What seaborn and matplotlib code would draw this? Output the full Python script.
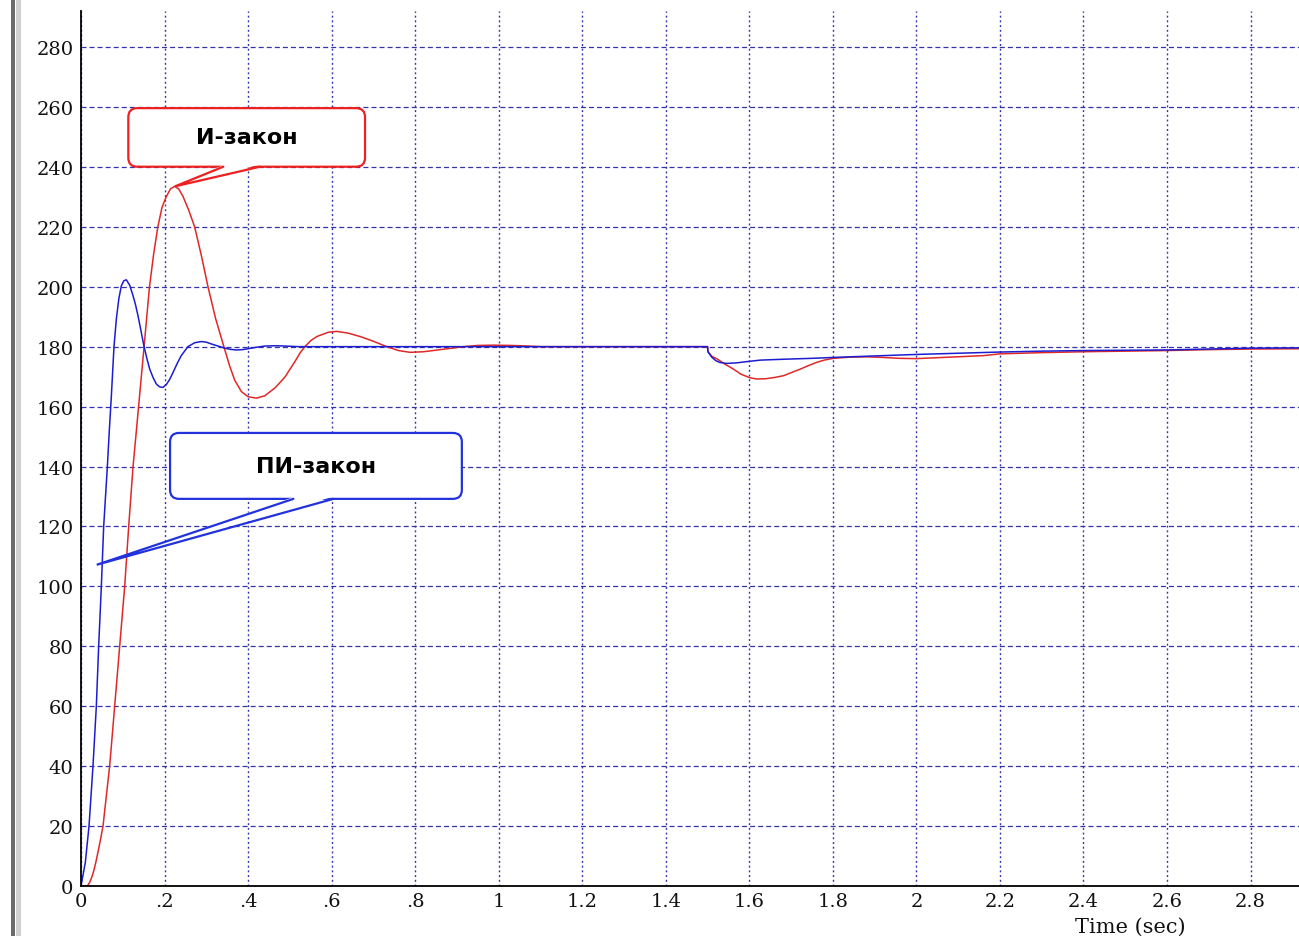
import numpy as np
import pandas as pd
import matplotlib
matplotlib.use("Agg")
import matplotlib.pyplot as plt
import seaborn as sns
from matplotlib.patches import FancyBboxPatch, Polygon
from matplotlib.lines import Line2D
from matplotlib.transforms import IdentityTransform

# ---------------- data ----------------
series_names = ["И-закон", "ПИ-закон"]

t_pi = [0.000, 0.004, 0.0104, 0.0192, 0.0287, 0.0367, 0.0423, 0.0487, 0.0543, 0.0631,
        0.0680, 0.0727, 0.0790, 0.0846, 0.0906, 0.0966, 0.1025, 0.1086, 0.1166, 0.1246,
        0.1305, 0.1365, 0.1440, 0.1510, 0.1578, 0.1645, 0.1725, 0.1805, 0.1880, 0.1960,
        0.2040, 0.2120, 0.2204, 0.2300, 0.2400, 0.2560, 0.2720, 0.2880, 0.3000, 0.3120,
        0.3280, 0.3440, 0.3580, 0.3720, 0.3860, 0.4000, 0.4200, 0.4400, 0.4650, 0.4880,
        0.5200, 0.5600, 1.5000, 1.5010, 1.5100, 1.5200, 1.5300, 1.5460, 1.5700, 1.6000,
        1.6260, 1.6820, 1.7500, 1.8020, 1.9000, 2.0000, 2.1000, 2.2000, 2.3000, 2.4000,
        2.5000, 2.6000, 2.7000, 2.8000, 2.9200]
v_pi = [0.0, 3.0, 7.9, 20.0, 40.0, 60.0, 80.0, 100.0, 120.0, 140.0,
        152.5, 163.6, 180.0, 189.2, 196.0, 200.3, 202.0, 202.3, 200.5, 197.0,
        194.0, 190.3, 185.0, 180.0, 176.0, 172.5, 169.7, 167.5, 166.6, 166.4,
        167.3, 169.0, 171.4, 174.3, 177.0, 180.0, 181.3, 181.7, 181.5, 180.9,
        180.2, 179.5, 179.1, 178.9, 179.0, 179.3, 179.8, 180.2, 180.3, 180.2,
        180.0, 180.0, 180.0, 178.3, 176.5, 175.3, 174.7, 174.4, 174.6, 175.1,
        175.5, 175.8, 176.1, 176.4, 176.9, 177.4, 177.8, 178.2, 178.5, 178.7,
        178.8, 178.9, 179.2, 179.5, 179.6]

t_i = [0.000, 0.015, 0.020, 0.025, 0.030, 0.035, 0.040, 0.046, 0.0527, 0.0606,
       0.0686, 0.0806, 0.0926, 0.1046, 0.1142, 0.1246, 0.1326, 0.1405, 0.1510, 0.1575,
       0.1640, 0.1740, 0.1840, 0.1940, 0.2040, 0.2144, 0.2244, 0.2340, 0.2440, 0.2580,
       0.2720, 0.2880, 0.3040, 0.3220, 0.3420, 0.3560, 0.3680, 0.3840, 0.4000, 0.4200,
       0.4400, 0.4650, 0.4880, 0.5120, 0.5250, 0.5360, 0.5500, 0.5650, 0.5920, 0.6120,
       0.6400, 0.6700, 0.7000, 0.7320, 0.7600, 0.7880, 0.8200, 0.8600, 0.9160, 0.9500,
       0.9880, 1.0300, 1.0700, 1.1000, 1.5000, 1.5010, 1.5100, 1.5230, 1.5400, 1.5620,
       1.5800, 1.6020, 1.6180, 1.6400, 1.6600, 1.6820, 1.7000, 1.7220, 1.7420, 1.7620,
       1.7820, 1.8020, 1.8400, 1.8820, 1.9200, 1.9600, 2.0000, 2.0800, 2.1610, 2.2000,
       2.3000, 2.4000, 2.5000, 2.6000, 2.7000, 2.8000, 2.9200]
v_i = [0.0, 0.0, 1.0, 2.6, 4.8, 7.6, 10.9, 15.0, 20.0, 30.0,
       40.0, 60.0, 80.0, 100.0, 120.0, 140.0, 152.0, 164.0, 180.0, 190.0,
       200.0, 211.0, 220.0, 226.5, 230.0, 232.7, 233.5, 232.6, 230.2, 225.5,
       220.0, 210.5, 200.0, 189.5, 180.0, 173.5, 168.8, 165.0, 163.3, 162.8,
       163.6, 166.3, 169.8, 175.0, 178.0, 180.0, 182.0, 183.4, 184.8, 185.1,
       184.5, 183.3, 181.8, 180.0, 178.7, 178.1, 178.3, 179.0, 180.0, 180.4,
       180.5, 180.4, 180.2, 180.0, 180.0, 178.3, 176.8, 175.9, 174.3, 172.5,
       170.8, 169.6, 169.2, 169.3, 169.7, 170.3, 171.3, 172.5, 173.7, 174.8,
       175.6, 176.1, 176.5, 176.6, 176.4, 176.1, 176.0, 176.5, 177.0, 177.6,
       178.0, 178.3, 178.5, 178.7, 179.0, 179.2, 179.3]

x_ticks = [0, 0.2, 0.4, 0.6, 0.8, 1.0, 1.2, 1.4, 1.6, 1.8, 2.0, 2.2, 2.4, 2.6, 2.8]
x_tick_labels = ["0", ".2", ".4", ".6", ".8", "1", "1.2", "1.4", "1.6", "1.8",
                 "2", "2.2", "2.4", "2.6", "2.8"]
y_ticks = [0, 20, 40, 60, 80, 100, 120, 140, 160, 180, 200, 220, 240, 260, 280]
x_label = "Time (sec)"

# ---------------- style ----------------
W, H = 1299, 937
sns.set_theme(style="white")
plt.rcParams["font.family"] = ["DejaVu Serif"]
plt.rcParams["lines.scale_dashes"] = False

red = "#e02828"
blue = "#1c1cd0"
grid_c = "#3232aa"

fig = plt.figure(figsize=(W / 100, H / 100), dpi=100)
fig.patch.set_facecolor("white")
ax = fig.add_axes([81 / W, 50 / H, (W - 81) / W, 875 / H])
ax.set_facecolor("white")

df = pd.concat([
    pd.DataFrame({"t": t_i, "v": v_i, "law": series_names[0]}),
    pd.DataFrame({"t": t_pi, "v": v_pi, "law": series_names[1]}),
], ignore_index=True)

sns.lineplot(data=df, x="t", y="v", hue="law", hue_order=series_names,
             palette={series_names[0]: red, series_names[1]: blue},
             estimator=None, sort=False, legend=False, linewidth=1.1,
             ax=ax, zorder=3)

ax.set_xlim(0, 1218 / 417.7)
ax.set_ylim(0, 875 / 2.9964)
ax.set_xticks(x_ticks)
ax.set_xticklabels(x_tick_labels)
ax.set_yticks(y_ticks)
ax.set_xlabel("")
ax.set_ylabel("")
ax.tick_params(length=0, labelsize=14, colors="#111111")
ax.tick_params(axis="x", pad=4.5)
ax.tick_params(axis="y", pad=5.5)

ax.set_axisbelow(True)
ax.xaxis.grid(True, color=grid_c, linestyle=(0, (1.4, 2.0)), linewidth=1.0)
ax.yaxis.grid(True, color=grid_c, linestyle=(0, (3.6, 2.2)), linewidth=0.9)

for s in ["top", "right"]:
    ax.spines[s].set_visible(False)
for s in ["left", "bottom"]:
    ax.spines[s].set_visible(True)
    ax.spines[s].set_color("black")
    ax.spines[s].set_linewidth(1.3)
    ax.spines[s].set_zorder(4)

ax.text((1130 - 81) / 1218, (887 - 927) / 875, x_label, transform=ax.transAxes,
        ha="center", va="center", fontsize=15, color="#111111")

# window frame on the left
fig.add_artist(Line2D([13 / W, 13 / W], [0, 1], transform=fig.transFigure,
                      color="#6a6a6a", linewidth=4 * 0.72))
fig.add_artist(Line2D([17.5 / W, 17.5 / W], [0, 1], transform=fig.transFigure,
                      color="#cfcfcf", linewidth=5 * 0.72))


# ---------------- callouts ----------------
def callout(box, base, tip, color, text):
    tr = ax.transData
    x0, y0 = tr.transform((box[0], box[2]))
    x1, y1 = tr.transform((box[1], box[3]))
    xa, _ = tr.transform((base[0], box[2]))
    xb, _ = tr.transform((base[1], box[2]))
    tx, ty = tr.transform(tip)
    patch = FancyBboxPatch((x0, y0), x1 - x0, y1 - y0,
                           boxstyle="round,pad=0,rounding_size=9",
                           transform=IdentityTransform(), facecolor="white",
                           edgecolor=color, linewidth=1.6, zorder=10)
    fig.add_artist(patch)
    tri = Polygon([(xa + 0.8, y0 + 2.0), (xb - 0.8, y0 + 2.0), (tx, ty)],
                  closed=True, transform=IdentityTransform(), facecolor="white",
                  edgecolor="none", zorder=11)
    fig.add_artist(tri)
    fig.add_artist(Line2D([xa, tx, xb], [y0, ty, y0], transform=IdentityTransform(),
                          color=color, linewidth=1.6, zorder=12,
                          solid_joinstyle="miter"))
    cx, cy = fig.transFigure.inverted().transform(((x0 + x1) / 2, (y0 + y1) / 2))
    fig.text(cx, cy, text, ha="center", va="center", fontsize=16,
             fontweight="bold", family=["DejaVu Sans"], color="black", zorder=13)


callout((0.1133, 0.680, 240.05, 259.6), (0.3408, 0.4287), (0.2251, 233.5),
        "#ee2020", series_names[0])
callout((0.2132, 0.9118, 129.2, 151.2), (0.5085, 0.6043), (0.0376, 107.2),
        "#2233dd", series_names[1])

fig.savefig("out.png", dpi=100)
